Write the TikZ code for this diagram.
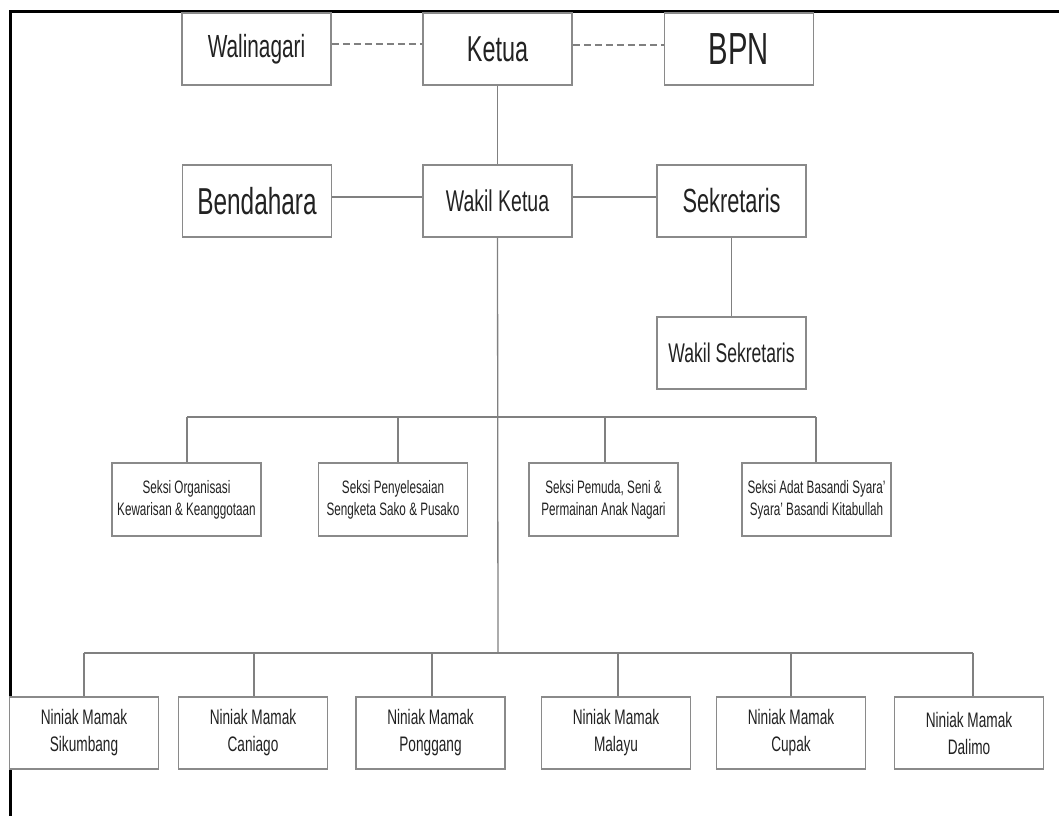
\documentclass[tikz,border=0pt]{standalone}
\usepackage{fontspec}
\setmainfont{Liberation Sans}[FakeStretch=0.65]
\definecolor{boxline}{HTML}{8A8A8A}
\definecolor{conn}{HTML}{808080}
\definecolor{txt}{HTML}{222222}
\tikzset{
  unit/.style={x=1pt,y=-1pt},
  orgbox/.style={draw=boxline,line width=1.5pt,fill=white,inner sep=0pt,
    minimum width=149pt,minimum height=72pt,text=txt,align=center},
  link/.style={draw=conn,line width=1.3pt},
  dlink/.style={link,dashed,dash pattern=on 7pt off 4pt},
  frameline/.style={draw=black,line width=3pt},
  fs/.style={font=\fontsize{#1}{#1}\selectfont},
  seksi/.style={orgbox,minimum height=73pt,font=\fontsize{18}{22}\selectfont},
  niniak/.style={orgbox,font=\fontsize{21}{27}\selectfont},
}
\begin{document}
\begin{tikzpicture}[unit]
\useasboundingbox (0,0) rectangle (1059,816);
% frame
\coordinate (ftl) at (10.5,11.5);
\coordinate (ftr) at (1059,11.5);
\coordinate (fbl) at (10.5,816);
\draw[frameline] (ftr) -- (ftl) -- (fbl);
% top row
\node[orgbox,fs=32] (wal) at (256.5,49) {Walinagari};
\node[orgbox,fs=36] (ket) at (497.5,49) {Ketua};
\node[orgbox,fs=45] (bpn) at (739,49) {BPN};
% second row
\node[orgbox,fs=37.5] (ben) at (257,201) {Bendahara};
\node[orgbox,fs=30] (wak) at (497.5,201) {Wakil Ketua};
\node[orgbox,fs=33.5] (sek) at (731.5,201) {Sekretaris};
\node[orgbox,fs=27] (wsek) at (731.5,353) {Wakil Sekretaris};
% seksi row
\node[seksi] (s1) at (186.5,499.5) {Seksi Organisasi\\Kewarisan \& Keanggotaan};
\node[seksi] (s2) at (393,499.5) {Seksi Penyelesaian\\Sengketa Sako \& Pusako};
\node[seksi] (s3) at (603.5,499.5) {Seksi Pemuda, Seni \&\\Permainan Anak Nagari};
\node[seksi] (s4) at (816.5,499.5) {Seksi Adat Basandi Syara'\\Syara' Basandi Kitabullah};
% niniak row
\node[niniak] (n1) at (84,733) {Niniak Mamak\\Sikumbang};
\node[niniak] (n2) at (253,733) {Niniak Mamak\\Caniago};
\node[niniak] (n3) at (430.5,733) {Niniak Mamak\\Ponggang};
\node[niniak] (n4) at (616,733) {Niniak Mamak\\Malayu};
\node[niniak] (n5) at (791,733) {Niniak Mamak\\Cupak};
\node[niniak] (n6) at (969,733) {Niniak Mamak\\Dalimo};
% bus coordinates
\coordinate (sb1) at (187,417);
\coordinate (sb2) at (398,417);
\coordinate (sb3) at (605,417);
\coordinate (sb4) at (816,417);
\coordinate (nb1) at (84,653);
\coordinate (nb2) at (254,653);
\coordinate (nb3) at (432,653);
\coordinate (nb4) at (618,653);
\coordinate (nb5) at (791,653);
\coordinate (nb6) at (973,653);
\coordinate (nbm) at (498,653);
% connectors
\draw[dlink] ([yshift=5pt]wal.east) -- ([yshift=5pt]ket.west);
\draw[dlink] ([yshift=4pt]ket.east) -- ([yshift=4pt]bpn.west);
\draw[link] (ket.south) -- (wak.north);
\draw[link] ([yshift=4pt]ben.east) -- ([yshift=4pt]wak.west);
\draw[link] ([yshift=4pt]wak.east) -- ([yshift=4pt]sek.west);
\draw[link] (sek.south) -- (wsek.north);
\draw[link] (wak.south) -- (nbm);
\draw[link] (sb1) -- (sb4);
\foreach \i in {1,2,3,4} {\draw[link] (sb\i) -- (sb\i |- s\i.north);}
\draw[link] (nb1) -- (nb6);
\foreach \i in {1,2,3,4,5,6} {\draw[link] (nb\i) -- (nb\i |- n\i.north);}
\end{tikzpicture}
\end{document}
